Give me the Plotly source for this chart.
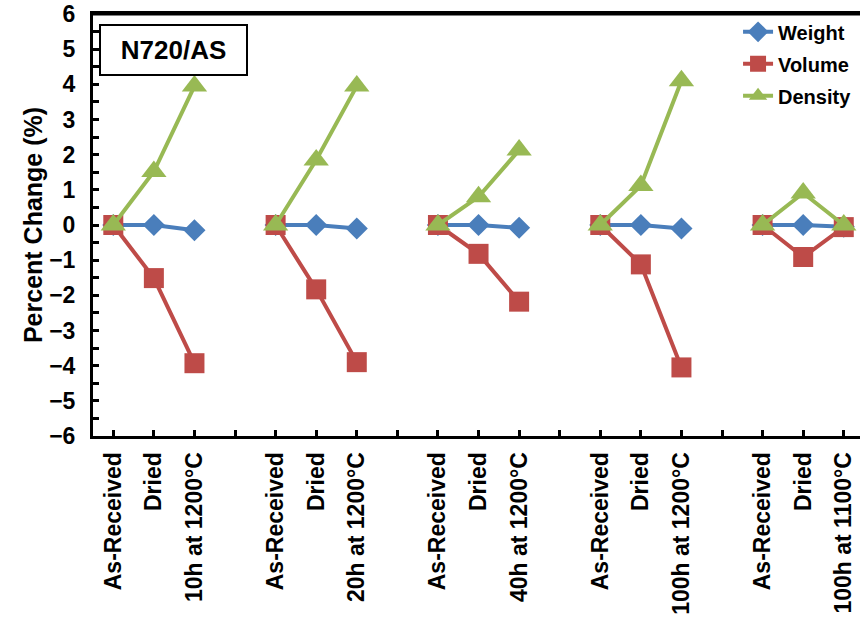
import plotly.graph_objects as go

groups = ["10h at 1200°C", "20h at 1200°C", "40h at 1200°C", "100h at 1200°C", "100h at 1100°C"]
stages = ["As-Received", "Dried"]

weight = [[0, 0.0, -0.15], [0, 0.0, -0.10], [0, 0.0, -0.08], [0, 0.0, -0.10], [0, 0.0, -0.05]]
volume = [[0, -1.51, -3.93], [0, -1.83, -3.90], [0, -0.82, -2.18], [0, -1.12, -4.05], [0, -0.91, -0.06]]
density = [[0, 1.52, 3.95], [0, 1.85, 3.95], [0, 0.80, 2.13], [0, 1.12, 4.10], [0, 0.91, 0.0]]

series_names = ["Weight", "Volume", "Density"]
series_data = [weight, volume, density]
colors = ["#4A7EBB", "#BE4B48", "#98B954"]
symbols = ["diamond", "square", "triangle-up"]
msizes = [17, 20, 22]

# build slot positions: 3 categories per group + one empty slot between groups
tick_vals, tick_text = [], []
slot = 0
for gi, g in enumerate(groups):
    for lab in stages + [g]:
        tick_vals.append(slot)
        tick_text.append(lab)
        slot += 1
    if gi < len(groups) - 1:
        tick_vals.append(slot)
        tick_text.append("")
        slot += 1

fig = go.Figure()
for name, data, col, sym, ms in zip(series_names, series_data, colors, symbols, msizes):
    x, y = [], []
    s = 0
    for gi, vals in enumerate(data):
        for v in vals:
            x.append(s)
            y.append(v)
            s += 1
        if gi < len(data) - 1:
            x.append(s)
            y.append(None)
            s += 1
    fig.add_trace(go.Scatter(
        x=x, y=y, name="<b>" + name + "</b>", mode="lines+markers", connectgaps=False,
        line=dict(color=col, width=4),
        marker=dict(symbol=sym, size=ms, color=col),
        legendgroup=name,
    ))

font_family = "Arial, 'Liberation Sans', sans-serif"
fig.update_layout(
    width=860, height=644,
    margin=dict(l=93, r=0, t=14, b=208),
    plot_bgcolor="white", paper_bgcolor="white",
    font=dict(family=font_family, size=22, color="black", weight="bold"),
    showlegend=True,
    legend=dict(
        x=0.841, y=1.004, xanchor="left", yanchor="top",
        font=dict(size=20, family=font_family, color="black"),
        bgcolor="rgba(0,0,0,0)", tracegroupgap=3,
    ),
    annotations=[dict(
        text="<b>N720/AS</b>", xref="paper", yref="paper",
        x=0.1056, y=0.915, xanchor="center", yanchor="middle", showarrow=False,
        font=dict(size=26, family=font_family, color="black"),
        bordercolor="black", borderwidth=2, borderpad=2,
        width=141, height=44, bgcolor="white",
    )],
    shapes=[dict(type="line", xref="paper", yref="paper", x0=0, x1=1, y0=1, y1=1,
                 line=dict(color="black", width=3))],
)
fig.update_xaxes(
    range=[-0.5, 18.4], tickmode="array", tickvals=tick_vals, ticktext=tick_text,
    tickangle=-90, ticks="inside", ticklen=6, tickwidth=3, tickcolor="black",
    showline=True, linecolor="black", linewidth=3, mirror=True,
    showgrid=False, zeroline=False, ticklabelstandoff=4, automargin=False,
    tickfont=dict(size=23, family=font_family, weight="bold", color="black"),
)
fig.update_yaxes(
    range=[-6, 6], tickmode="array", tickvals=list(range(-6, 7)),
    ticks="inside", ticklen=6, tickwidth=3, tickcolor="black",
    minor=dict(dtick=0.5, ticks="inside", ticklen=6, tickwidth=3, tickcolor="black"),
    showline=True, linecolor="black", linewidth=3, mirror=False,
    showgrid=False, zeroline=False, ticklabelstandoff=10, automargin=False,
    ticklabeloverflow="allow",
    tickfont=dict(size=23, family=font_family, weight="bold", color="black"),
    title=dict(text="Percent Change (%)", font=dict(size=25, family=font_family, weight="bold", color="black"), standoff=0),
)

fig.write_html("out.html", config={"displayModeBar": False},
               post_script="document.body.style.margin='0';document.body.style.padding='0';")
